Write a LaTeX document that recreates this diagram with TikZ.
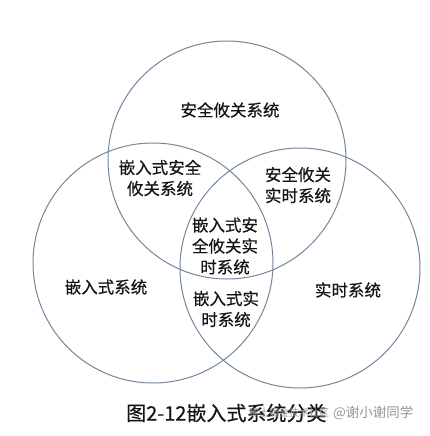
\documentclass[tikz,border=0pt]{standalone}
\usepackage{fontspec}
\newfontfamily\cjk{Noto Sans CJK SC}[FakeBold=0.4]
\newfontfamily\cjkwm{Noto Sans CJK SC}
\definecolor{ring}{RGB}{115,135,158}
\definecolor{ink}{RGB}{20,20,20}
\definecolor{wm}{RGB}{150,150,150}
\begin{document}
\begin{tikzpicture}[x=1pt,y=-1pt,
  ringline/.style={draw=ring,line width=1pt},
  lbl/.style={text=ink,align=center,inner sep=0pt,font=\cjk\fontsize{16.5}{21}\selectfont},
  captext/.style={text=ink,anchor=west,inner sep=0pt,font=\cjk\fontsize{20}{24}\selectfont},
  wmark/.style={text=wm,anchor=west,inner sep=0pt}]
\useasboundingbox (0,0) rectangle (429,436);
\fill[white] (0,0) rectangle (429,436);
\draw[ringline] (227,160) circle[radius=119pt];
\draw[ringline] (153,263) circle[radius=120pt];
\draw[ringline] (300,268) circle[radius=120pt];
\node[lbl] (safe) at (230,110) {安全攸关系统};
\node[lbl] (embsafe) at (160,178) {嵌入式安全\\攸关系统};
\node[lbl] (safert) at (298,185) {安全攸关\\实时系统};
\node[lbl] (all) at (225,246) {嵌入式安\\全攸关实\\时系统};
\node[lbl] (emb) at (106,287) {嵌入式系统};
\node[lbl] (embrt) at (226,309) {嵌入式实\\时系统};
\node[lbl] (rt) at (348,290) {实时系统};
\node[captext] (caption) at (126,413) {图2-12嵌入式系统分类};
\node[wmark,font=\cjkwm\fontsize{10}{12}\selectfont] (water) at (249,413) {稀土掘金技术社区};
\node[wmark,font=\cjkwm\fontsize{13.5}{16}\selectfont] (author) at (333,413) {@谢小谢同学};
\end{tikzpicture}
\end{document}
